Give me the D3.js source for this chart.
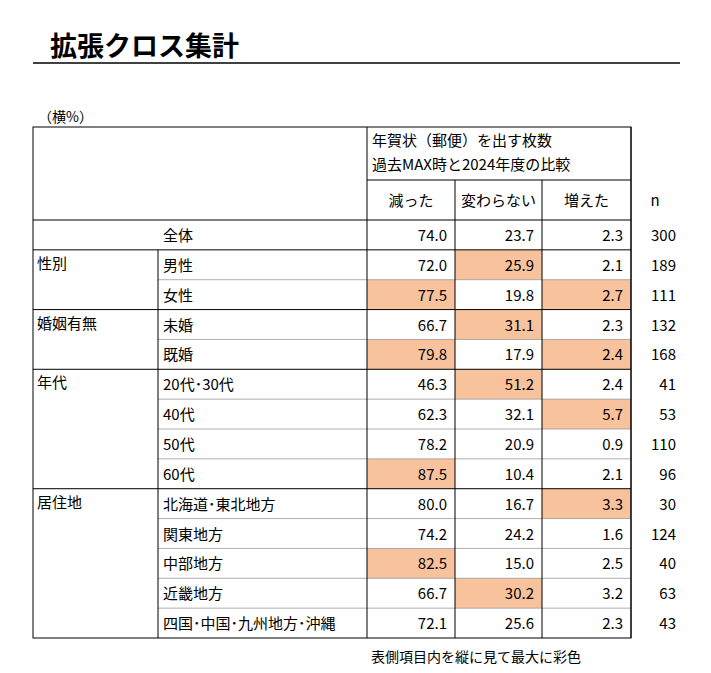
<!DOCTYPE html>
<html><head><meta charset="utf-8">
<script src="https://cdn.jsdelivr.net/npm/d3@7"></script>
<style>body{margin:0;background:#fff}text{font-family:"Noto Sans CJK JP",sans-serif}</style>
</head><body>
<script>
const groups = ['', '性別', '', '婚姻有無', '', '年代', '', '', '', '居住地', '', '', '', ''];
const groupId = [0, 1, 1, 2, 2, 3, 3, 3, 3, 4, 4, 4, 4, 4];
const labels = ['全体', '男性', '女性', '未婚', '既婚', '20代･30代', '40代', '50代', '60代',
  '北海道･東北地方', '関東地方', '中部地方', '近畿地方', '四国･中国･九州地方･沖縄'];
const decreased = [74.0, 72.0, 77.5, 66.7, 79.8, 46.3, 62.3, 78.2, 87.5, 80.0, 74.2, 82.5, 66.7, 72.1];
const same = [23.7, 25.9, 19.8, 31.1, 17.9, 51.2, 32.1, 20.9, 10.4, 16.7, 24.2, 15.0, 30.2, 25.6];
const increased = [2.3, 2.1, 2.7, 2.3, 2.4, 2.4, 5.7, 0.9, 2.1, 3.3, 1.6, 2.5, 3.2, 2.3];
const nValues = [300, 189, 111, 132, 168, 41, 53, 110, 96, 30, 124, 40, 63, 43];
const colHeads = ['減った', '変わらない', '増えた'];

const svg = d3.select('body').append('svg').attr('width', 711).attr('height', 673);
const cols = [decreased, same, increased];
const xEdge = [367, 455, 542, 631];
const tblLeft = 33, bodyTop = 220, rowH = (638 - 220) / labels.length;
const y = d3.scaleLinear().domain([0, labels.length]).range([bodyTop, 638]);

// title
svg.append('text').attr('x', 50).attr('y', 56).attr('font-size', 27).attr('font-weight', 'bold').text('拡張クロス集計');
svg.append('line').attr('x1', 33).attr('x2', 680).attr('y1', 63).attr('y2', 63).attr('stroke', '#000').attr('stroke-width', 1.5);
svg.append('text').attr('x', 38).attr('y', 122).attr('font-size', 14).text('（横%）');

// highlight max within each group (except 全体)
cols.forEach((vals, c) => {
  d3.range(1, 5).forEach(g => {
    const idx = d3.range(labels.length).filter(i => groupId[i] === g);
    const best = d3.greatest(idx, i => vals[i]);
    svg.append('rect').attr('x', xEdge[c]).attr('y', y(best)).attr('width', xEdge[c + 1] - xEdge[c])
      .attr('height', rowH).attr('fill', '#F8C29C');
  });
});

// thin inner row lines
labels.forEach((l, i) => {
  if (i > 0 && groupId[i] === groupId[i - 1]) {
    svg.append('line').attr('x1', 158).attr('x2', 631).attr('y1', y(i)).attr('y2', y(i)).attr('stroke', '#999').attr('stroke-width', 0.8);
  }
});
// group lines
labels.forEach((l, i) => {
  if (i === 0 || groupId[i] !== groupId[i - 1]) {
    svg.append('line').attr('x1', tblLeft).attr('x2', 631).attr('y1', y(i)).attr('y2', y(i)).attr('stroke', '#000');
  }
});
// verticals
xEdge.forEach(x => svg.append('line').attr('x1', x).attr('x2', x).attr('y1', x === 631 || x === 367 ? 127 : 180).attr('y2', 638).attr('stroke', '#000'));
svg.append('line').attr('x1', 158).attr('x2', 158).attr('y1', y(1)).attr('y2', 638).attr('stroke', '#000');
svg.append('rect').attr('x', tblLeft).attr('y', 127).attr('width', 631 - tblLeft).attr('height', 638 - 127).attr('fill', 'none').attr('stroke', '#000');
svg.append('line').attr('x1', 367).attr('x2', 631).attr('y1', 180).attr('y2', 180).attr('stroke', '#000');

// header text
svg.append('text').attr('x', 372).attr('y', 146).attr('font-size', 15).text('年賀状（郵便）を出す枚数');
svg.append('text').attr('x', 372).attr('y', 170).attr('font-size', 15).text('過去MAX時と2024年度の比較');
colHeads.forEach((h, c) => svg.append('text').attr('x', (xEdge[c] + xEdge[c + 1]) / 2).attr('y', 206)
  .attr('text-anchor', 'middle').attr('font-size', 15).text(h));
svg.append('text').attr('x', 655).attr('y', 206).attr('text-anchor', 'middle').attr('font-size', 15).text('n');

// rows
labels.forEach((l, i) => {
  const ty = y(i) + rowH / 2 + 6;
  if (groups[i]) svg.append('text').attr('x', 37).attr('y', y(i) + 19).attr('font-size', 15).text(groups[i]);
  svg.append('text').attr('x', 163).attr('y', ty).attr('font-size', 15).text(l);
  cols.forEach((vals, c) => svg.append('text').attr('x', xEdge[c + 1] - 8).attr('y', ty)
    .attr('text-anchor', 'end').attr('font-size', 15).text(d3.format('.1f')(vals[i])));
  svg.append('text').attr('x', 676).attr('y', ty).attr('text-anchor', 'end').attr('font-size', 15).text(nValues[i]);
});

svg.append('text').attr('x', 371).attr('y', 662).attr('font-size', 14).text('表側項目内を縦に見て最大に彩色');
</script>
</body></html>
